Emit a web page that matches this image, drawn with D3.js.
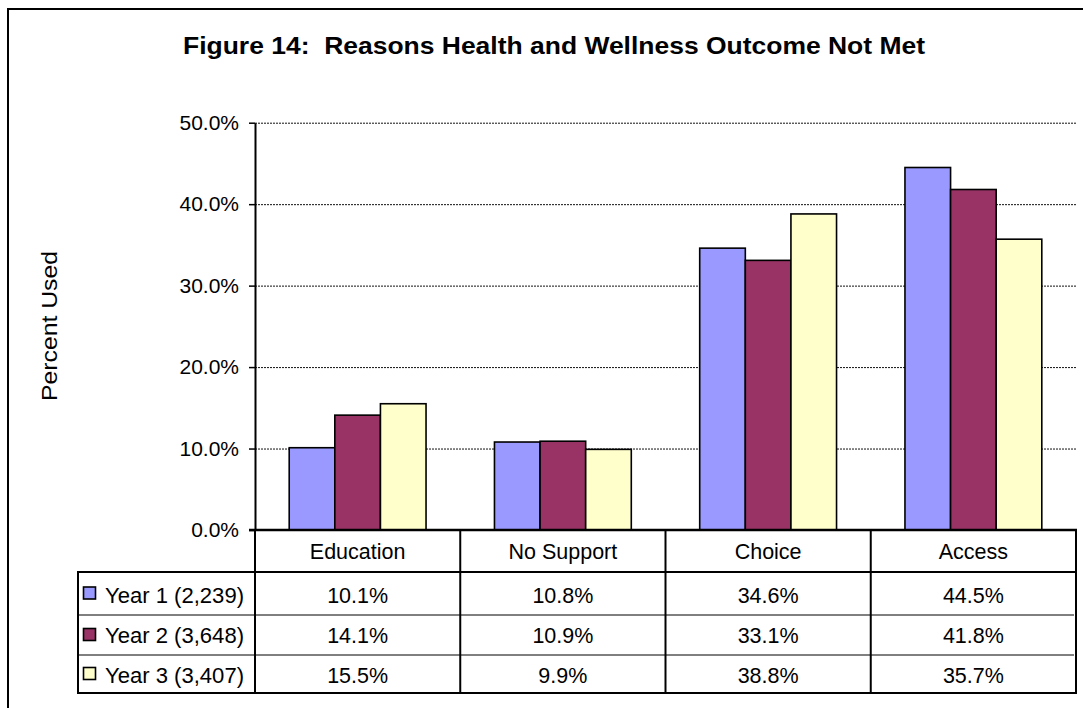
<!DOCTYPE html>
<html>
<head>
<meta charset="utf-8">
<script src="https://cdn.jsdelivr.net/npm/d3@7"></script>
<style>
  html, body { margin: 0; padding: 0; background: #fff; }
  svg text { font-family: "Liberation Sans", Arial, sans-serif; fill: #000; white-space: pre; }
</style>
</head>
<body>
<svg id="chart" width="1083" height="708"></svg>
<script>
// ---- data ----
const categories = ["Education", "No Support", "Choice", "Access"];
const seriesNames = ["Year 1 (2,239)", "Year 2 (3,648)", "Year 3 (3,407)"];
const year1 = [10.1, 10.8, 34.6, 44.5];
const year2 = [14.1, 10.9, 33.1, 41.8];
const year3 = [15.5, 9.9, 38.8, 35.7];
const yTicks = [0, 10, 20, 30, 40, 50];
const title = "Figure 14:  Reasons Health and Wellness Outcome Not Met";
const yLabel = "Percent Used";

const seriesValues = [year1, year2, year3];
const colors = ["#9999FF", "#993366", "#FFFFCC"];

// ---- layout ----
const svg = d3.select("#chart");
const plotLeft = 255, plotRight = 1076, plotTop = 122.7, plotBottom = 530;
const tableLeft = 78;
const rowEdges = [530, 572, 615, 655, 693];

// outer frame (only top/left visible in reference)
svg.append("line").attr("x1", 8).attr("y1", 9).attr("x2", 1083).attr("y2", 9)
  .attr("stroke", "#000").attr("stroke-width", 2);
svg.append("line").attr("x1", 8).attr("y1", 8).attr("x2", 8).attr("y2", 708)
  .attr("stroke", "#000").attr("stroke-width", 2);

// title
svg.append("text").attr("x", 554).attr("y", 54).attr("text-anchor", "middle")
  .attr("font-size", 24).attr("font-weight", "bold")
  .attr("textLength", 742).attr("lengthAdjust", "spacingAndGlyphs")
  .attr("xml:space", "preserve")
  .text(title);

// scales
const x = d3.scaleBand().domain(categories).range([plotLeft, plotRight]).paddingInner(0).paddingOuter(0);
const xs = d3.scaleBand().domain(seriesNames).range([0, x.bandwidth()]).paddingInner(0).paddingOuter(0.75);
const y = d3.scaleLinear().domain([0, 50]).range([plotBottom, plotTop]);

// gridlines
svg.append("g").selectAll("line").data(yTicks.filter(d => d > 0)).join("line")
  .attr("x1", plotLeft).attr("x2", plotRight)
  .attr("y1", d => y(d) + 0.5).attr("y2", d => y(d) + 0.5)
  .attr("stroke", "#111").attr("stroke-width", 1).attr("stroke-dasharray", "2,1");

// bars
const groups = svg.append("g").selectAll("g").data(seriesNames).join("g")
  .attr("fill", (d, i) => colors[i]);
groups.selectAll("rect").data((s, i) => categories.map((c, j) => ({ c, s, v: seriesValues[i][j] })))
  .join("rect")
  .attr("x", d => x(d.c) + xs(d.s))
  .attr("width", xs.bandwidth())
  .attr("y", d => y(d.v))
  .attr("height", d => y(0) - y(d.v))
  .attr("stroke", "#000").attr("stroke-width", 1.6);

// y axis
const yAxis = d3.axisLeft(y).tickValues(yTicks).tickSize(6).tickSizeOuter(0).tickPadding(10)
  .tickFormat(d => d.toFixed(1) + "%");
const gy = svg.append("g").attr("transform", `translate(${plotLeft},0)`).call(yAxis);
gy.select(".domain").attr("stroke", "#000").attr("stroke-width", 2);
gy.selectAll(".tick line").attr("stroke", "#000").attr("stroke-width", 1.5);
gy.selectAll(".tick text").attr("font-size", 21).attr("font-family", "Liberation Sans, Arial, sans-serif").attr("fill", "#000");

// y label
svg.append("text").attr("transform", `translate(57,326) rotate(-90)`)
  .attr("text-anchor", "middle").attr("font-size", 22)
  .attr("textLength", 150).attr("lengthAdjust", "spacingAndGlyphs")
  .text(yLabel);

// ---- data table ----
const tbl = svg.append("g");
const thick = 2, thin = 1;
tbl.append("line").attr("x1", plotLeft - 6).attr("x2", plotRight + 1).attr("y1", rowEdges[0]).attr("y2", rowEdges[0])
  .attr("stroke", "#000").attr("stroke-width", 2.5);
tbl.append("line").attr("x1", tableLeft - 1).attr("x2", plotRight + 1).attr("y1", rowEdges[1]).attr("y2", rowEdges[1])
  .attr("stroke", "#000").attr("stroke-width", thick);
[rowEdges[2], rowEdges[3]].forEach(yy => {
  tbl.append("line").attr("x1", tableLeft).attr("x2", plotRight - 2).attr("y1", yy).attr("y2", yy)
    .attr("stroke", "#000").attr("stroke-width", thin);
});
tbl.append("line").attr("x1", tableLeft - 1).attr("x2", plotRight + 1).attr("y1", rowEdges[4]).attr("y2", rowEdges[4])
  .attr("stroke", "#000").attr("stroke-width", thick);
tbl.append("line").attr("x1", tableLeft).attr("x2", tableLeft).attr("y1", rowEdges[1]).attr("y2", rowEdges[4])
  .attr("stroke", "#000").attr("stroke-width", thick);
const colEdges = categories.map(c => x(c)).concat([x(categories[categories.length - 1]) + x.bandwidth()]);
colEdges.forEach(cx => {
  tbl.append("line").attr("x1", cx).attr("x2", cx).attr("y1", rowEdges[0]).attr("y2", rowEdges[4])
    .attr("stroke", "#000").attr("stroke-width", thick);
});
tbl.selectAll("text.cat").data(categories).join("text").attr("class", "cat")
  .attr("x", d => x(d) + x.bandwidth() / 2).attr("y", 559)
  .attr("text-anchor", "middle").attr("font-size", 21.5).text(d => d);

const baselines = [602.5, 643, 683];
seriesNames.forEach((s, i) => {
  const rowTop = rowEdges[i + 1], rowBot = rowEdges[i + 2];
  const midY = (rowTop + rowBot) / 2;
  tbl.append("rect").attr("x", 83.5).attr("y", midY - 6.5).attr("width", 12).attr("height", 12)
    .attr("fill", colors[i]).attr("stroke", "#000").attr("stroke-width", 1.6);
  tbl.append("text").attr("x", 105).attr("y", baselines[i]).attr("font-size", 21.5)
    .attr("textLength", 139).attr("lengthAdjust", "spacingAndGlyphs").text(s);
  tbl.selectAll(null).data(categories).join("text")
    .attr("x", d => x(d) + x.bandwidth() / 2).attr("y", baselines[i])
    .attr("text-anchor", "middle").attr("font-size", 21.5)
    .text((d, j) => seriesValues[i][j].toFixed(1) + "%");
});
</script>
</body>
</html>
